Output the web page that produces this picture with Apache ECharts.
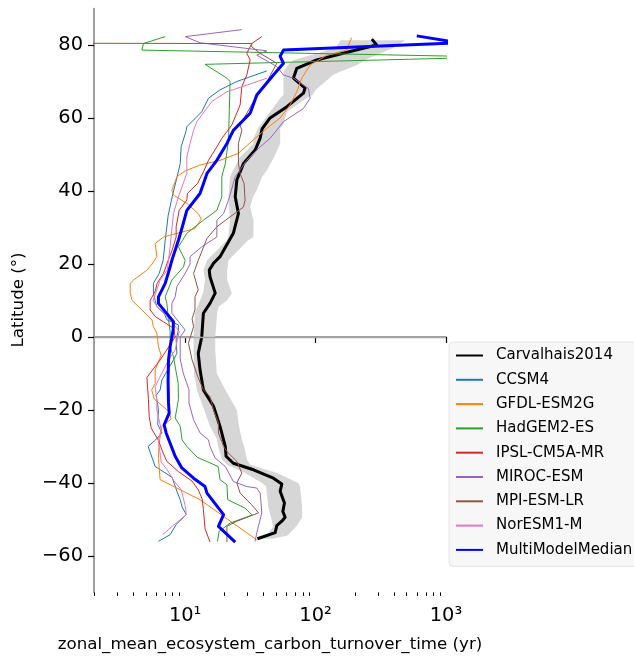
<!DOCTYPE html>
<html>
<head>
<meta charset="utf-8">
<script src="https://cdn.jsdelivr.net/npm/echarts@6/dist/echarts.min.js"></script>
<style>
html,body{margin:0;padding:0;background:#fff;}
#chart{width:634px;height:656px;}
</style>
</head>
<body>
<div id="chart"></div>
<script>
// ---------- tick labels ----------
const latTicks = [-60, -40, -20, 0, 20, 40, 60, 80];
const xMajorTicks = [10, 100, 1000];
const xMinorTicks = [2,3,4,5,6,7,8,9,20,30,40,50,60,70,80,90,200,300,400,500,600,700,800,900];

// ---------- series names / colours ----------
const seriesNames = ['Carvalhais2014','CCSM4','GFDL-ESM2G','HadGEM2-ES','IPSL-CM5A-MR','MIROC-ESM','MPI-ESM-LR','NorESM1-M','MultiModelMedian'];
const seriesColors = ['#000000','#1f77b4','#ff7f0e','#2ca02c','#d62728','#9467bd','#8c564b','#e377c2','#0000ff'];
const seriesWidths = [3, 1, 1, 1, 1, 1, 1, 1, 3];

// ---------- data (turnover time in yr vs latitude) ----------
const carvLat = [-55.3,-53.6,-51.7,-50.5,-49.4,-47.8,-45.5,-42.3,-40.3,-38.7,-36.4,-34.6,-32.7,-30,-24.5,-19,-14.5,-9,-4.5,0,6.5,9.2,12,16.5,18.3,20.2,22,28.4,33.8,38.4,43,47.5,51.2,54.5,57,60,63.1,66.8,68.2,70.9,73.6,75.9,78.2,80,81.6];
const carvVal = [35.8,49.0,50.4,55.1,58.4,56.1,57.7,53.5,55.1,47.5,33.4,23.4,20.6,20.3,18.5,16.5,13.8,13.0,12.6,13.4,13.8,15.5,17.0,15.5,15.3,16.5,18.5,23.4,25.6,24.2,24.9,28.0,34.4,37.6,38.9,44.8,60.3,80.7,83.1,67.6,71.8,102,184,294,270];

const bandLat = [-55.3,-54.5,-52,-49.5,-46.5,-41,-40,-37.3,-35,-33.7,-30,-28,-24.5,-20,-14.5,-10,-3.6,0,6.5,8.3,10,12,15.6,18.3,21,26.5,27.4,32,35.6,38.4,40.2,43.9,45.7,49.3,53,54.4,57.2,58.1,61.7,65.4,66.3,67.7,69,71.8,72.7,74.5,75.9,77.7,79.2,80.9,81.3];
const bandLo = [36.2,41.8,47.2,45.6,43.3,41.8,38.9,28.8,21.0,19.2,17.9,17.5,15.5,14.0,12.3,11.7,11.6,11.6,11.9,12.4,13.0,13.7,14.2,13.8,14.7,20.9,21.4,22.1,21.7,21.5,21.7,22.1,23.3,26.4,33.4,33.4,36.2,37.6,44.8,53.5,56.7,56.7,56.7,56.7,56.7,61.5,67.6,102,141,154,154];
const bandHi = [46.4,60.5,70.9,78.8,78.8,76.0,73.4,50.7,31.5,29.9,28.3,27.2,25.9,24.9,20.3,17.5,17.0,17.0,17.6,18.0,20.9,22.8,21.0,21.0,21.5,30.4,33.4,33.4,31.5,33.2,35.4,38.9,42.3,48.1,53.5,53.5,53.5,56.4,60.3,85,95,100,110,136,154,207,239,312,393,468,485];

const ccsmLat = [-56,-54.2,-51.4,-48.7,-46.6,-44.6,-42.5,-38.5,-35.5,-30,-28.2,-26.3,-24,-20,-16,-14.5,-11.8,-6.3,-4.5,-0.8,1.9,3.3,4.7,6.5,8.3,10,12,14.7,17.4,21,26.5,33.3,38.4,43.9,47.5,52.1,56.6,57.6,61.7,65.4,67.7,70,72.9];
const ccsmVal = [6.24,7.67,8.53,10.2,9.48,9.16,8.68,7.95,5.89,5.20,5.94,6.63,6.16,6.24,5.99,6.43,6.63,8.13,8.64,8.53,8.88,8.88,7.24,6.90,6.07,5.89,5.71,5.71,6.32,6.78,7.03,7.41,7.95,8.68,9.16,9.32,10.2,10.3,13.4,15.1,18.5,24.9,42.3];

const gfdlLat = [-55.6,-44.6,-39.1,-33,-29,-24.5,-22.5,-20.5,-17,-14.5,-12.7,-9,-5,-2.7,1,2.8,4.7,7.4,10,12,14.7,15.6,18.3,20,22,25.6,27.4,29.7,32.3,33.8,36.6,38.9,40.2,43.9,45.5,47.1,48.4,50.3,51.2,54.4,57.2,60,63.6,67.2,70.9,74.5,77.2,78.6,82];
const gfdlVal = [35.4,13.0,6.43,6.24,6.32,6.63,7.81,7.54,5.79,5.54,5.89,5.89,6.55,6.24,6.07,5.71,5.56,4.66,3.92,3.79,3.79,4.02,5.09,5.58,6.07,5.89,6.82,11.9,13.3,12.6,10.3,8.13,7.91,8.64,10,13,18.5,25.6,27.2,34.4,42.3,53.5,63.8,71.8,78.4,90.8,122,173,189];

const hadLat = [-56,-53.3,-51,-48.8,-46.9,-44.6,-40.5,-39.1,-35.5,-33,-30,-28.2,-24.5,-22.2,-17.2,-12.7,-5.4,-2.7,1.5,4.7,9.2,11,15.6,19.2,21,24.7,28.4,32,34.7,38.4,43.9,47.5,53.9,62,70,70.9,74.7,76.7,78.6,80.4,82.3];
const hadVal = [17.7,18.2,22.1,32.6,28.8,21.2,20.9,18.5,17.9,12.4,10.3,9.48,9.16,8.38,8.88,8.84,8.13,7.67,7.67,7.45,7.24,7.03,7.91,9.71,10.0,8.88,10.3,13.8,17.5,19.1,19.1,20.3,21.5,21.8,22.1,20.9,14.2,2500,4.66,4.79,7.03];

const ipslLat = [-56.2,-52.5,-47.3,-44.4,-41.9,-39.5,-36.9,-34.1,-31.8,-28.2,-25,-21.8,-17.2,-11.1,-6.3,0,2.4,5.6,7.4,10,12.5,14.7,17.4,21,23.8,27.4,30.2,34.7,37.5,39.3,42,45.2,48.4,52.1,54.4,58.1,63.6,68.6,71.8,75.9,77.7,80.4,82.3];
const ipslVal = [15.5,14.2,13.8,13.5,12.6,11.3,8.88,7.24,6.78,6.21,5.49,5.30,5.23,5.09,6.43,8.38,8.13,5.89,5.39,5.39,5.89,6.10,6.82,7.41,7.95,8.53,8.53,9.0,10.3,10.4,12.4,13.8,15.1,17.5,19.1,22.8,26.4,27.2,29.7,31.5,29.7,32.4,38.7];

const mirocLat = [-56,-53.7,-48.2,-42.8,-41.4,-41,-39.6,-35.5,-33.2,-30,-28.2,-26.3,-22.7,-18.1,-14.5,-9.9,-6,0,1.9,6.5,9.2,11,13.8,17.4,20,22,24.7,27.4,32,33.8,37.5,43.9,48.4,52.1,54.4,59,62.6,65.4,68.1,70.9,71.8,74.1,77.2,78.4,80.6,82.3,84.2];
const mirocVal = [34.4,35.4,38.7,37.6,35.4,29.7,23.4,20.3,17.0,15.5,15.1,13.0,11.6,10.7,10.7,9.66,9.16,9.16,10.0,7.91,7.91,8.38,8.64,10.0,10.9,10.9,13.4,17.5,17.5,19.7,21.5,24.2,29.7,37.6,44.8,56.7,80.7,90.8,88.1,67.6,56.7,50.4,35.4,42.3,13.0,10.0,27.2];

const mpiLat = [-56.2,-51.9,-50.5,-48.2,-46,-42.8,-40,-37.3,-34.1,-31.4,-30,-26.3,-23.6,-20,-16.3,-14.5,-10.9,-6.3,-1.7,2.8,5,7.4,11,12.9,17.4,21,27,30.2,32.9,35.6,37.5,42,44.8,47.5,53,56.6,58.1,64.5,69,74.1,75,77.7,79.5,80.4,80.5];
const mpiVal = [20.9,20.9,24.9,36.5,32.4,26.4,24.9,27.2,24.9,20.9,19.7,18.0,18.0,16.5,15.5,13.8,12.5,11.3,10.6,11.6,11.3,11.9,11.9,12.6,11.6,12.6,14.7,17.5,22.1,28.0,28.8,28.3,26.4,25.6,25.6,27.2,26.4,33.4,41.0,48.9,50.4,37.6,32.4,32.4,0.5];

const norLat = [-54.2,-51.9,-48.7,-46.2,-41.9,-39.5,-36.4,-34.3,-28.2,-25.4,-20,-17.5,-13.6,-6.3,-3.6,1.5,4.7,6.5,7.8,10,15.6,18.3,21,24.7,33.8,38.4,44.8,49.3,53,56.6,59,64.5,67.2,69,70.9];
const norVal = [6.72,7.95,10.2,10.0,9.32,8.24,7.28,6.55,6.24,6.55,6.07,6.07,5.89,7.45,8.38,9.0,7.67,6.82,6.21,5.69,6.43,7.28,7.45,7.67,8.13,8.88,10.3,10.3,10.9,11.6,12.3,16.0,20.9,29.7,42.3];

const medLat = [-56.2,-51.9,-48.7,-42.8,-41,-38.7,-35.9,-32.7,-26.3,-24.1,-20.9,-18,-12,-6.3,-2.7,1.9,4.2,9.2,11,14.7,18.3,21,26.5,30,34.7,39.3,44.8,48.4,53,56.6,61.3,66.3,71.8,75,76.9,78.6,80.6,82.5];
const medVal = [24.2,18.0,19.7,14.7,14.2,11.6,9.43,8.38,7.15,6.90,7.54,7.45,7.4,7.45,7.67,8.09,8.13,6.24,6.24,7.03,7.54,7.91,8.88,9.48,10.3,13.0,14.7,17.5,20.9,23.4,31.5,35.4,47.5,56.7,53.5,56.7,1260,597];

const allLat = [carvLat, ccsmLat, gfdlLat, hadLat, ipslLat, mirocLat, mpiLat, norLat, medLat];
const allVal = [carvVal, ccsmVal, gfdlVal, hadVal, ipslVal, mirocVal, mpiVal, norVal, medVal];

// ---------- chart ----------
const FONT = 'DejaVu Sans';
const SUP = {1: '\u00b9', 2: '\u00b2', 3: '\u00b3'};
const chart = echarts.init(document.getElementById('chart'), null, {renderer: 'canvas'});

const lineSeries = seriesNames.map((name, k) => {
  const s = {
    name: name,
    type: 'line',
    xAxisIndex: 0, yAxisIndex: 0,
    data: allVal[k].map((v, i) => [v, allLat[k][i]]),
    symbol: 'none',
    showSymbol: false,
    clip: true,
    silent: true,
    lineStyle: {color: seriesColors[k], width: seriesWidths[k], join: 'round'},
    itemStyle: {color: seriesColors[k]},
    z: 3 + k
  };
  if (k === 0) {
    s.markLine = {
      silent: true, symbol: 'none', label: {show: false},
      lineStyle: {color: '#a8a8a8', width: 1.3, type: 'solid'},
      data: [{yAxis: 0}]
    };
  }
  return s;
});

const bandSeries = {
  name: 'band',
  type: 'custom',
  xAxisIndex: 0, yAxisIndex: 0,
  silent: true,
  z: 1,
  data: [[bandLo[0], bandLat[0]]],
  renderItem: function (params, api) {
    const pts = [];
    for (let i = 0; i < bandLat.length; i++) pts.push(api.coord([bandLo[i], bandLat[i]]));
    for (let i = bandLat.length - 1; i >= 0; i--) pts.push(api.coord([bandHi[i], bandLat[i]]));
    return {type: 'polygon', shape: {points: pts}, style: {fill: '#d6d6d6', stroke: null}};
  }
};

const option = {
  animation: false,
  backgroundColor: '#ffffff',
  grid: {left: 94, right: 188, top: 8.5, bottom: 63.6, containLabel: false},
  xAxis: [
    {
      type: 'log', logBase: 10, min: 2, max: 1000, position: 'bottom',
      axisLine: {show: true, lineStyle: {color: '#808080', width: 1.5}},
      axisTick: {show: true, customValues: xMajorTicks, length: 6, lineStyle: {color: '#000', width: 1.2}},
      axisLabel: {
        customValues: xMajorTicks,
        formatter: function (v) {
          const e = Math.round(Math.log10(v));
          if (Math.abs(Math.pow(10, e) - v) > 1e-6) return '';
          return '10' + SUP[e];
        },
        fontFamily: FONT, fontSize: 19.4, color: '#000', margin: 14
      },
      splitLine: {show: false}
    },
    {
      type: 'log', logBase: 10, min: 2, max: 1000, position: 'bottom',
      axisLine: {show: false},
      axisTick: {show: true, customValues: xMinorTicks, length: 3.5, lineStyle: {color: '#000', width: 1}},
      axisLabel: {show: false},
      splitLine: {show: false}
    }
  ],
  yAxis: {
    type: 'value', min: -70, max: 90,
    axisLine: {show: true, lineStyle: {color: '#808080', width: 1.5}},
    axisTick: {show: true, customValues: latTicks, length: 6, lineStyle: {color: '#000', width: 1.2}},
    axisLabel: {
      customValues: latTicks,
      formatter: function (v) { return v < 0 ? '\u2212' + (-v) : String(v); },
      fontFamily: FONT, fontSize: 19.4, color: '#000', margin: 11
    },
    splitLine: {show: false}
  },
  legend: {
    data: seriesNames,
    orient: 'vertical',
    left: 449, top: 342,
    itemWidth: 27, itemHeight: 14, itemGap: 9.3,
    padding: [6, 8, 9, 6],
    backgroundColor: '#f7f7f7',
    borderColor: '#e4e4e4', borderWidth: 1, borderRadius: 4,
    itemStyle: {opacity: 0, borderWidth: 0},
    textStyle: {fontFamily: FONT, fontSize: 15, color: '#000', padding: [0, 0, 0, 8]},
    selectedMode: false
  },
  graphic: [
    {
      type: 'text', x: 19, y: 300, rotation: Math.PI / 2,
      style: {text: 'Latitude (\u00b0)', font: '16.67px "DejaVu Sans"', fill: '#000', align: 'center', verticalAlign: 'middle'}
    },
    {
      type: 'text', x: 270, y: 645,
      style: {text: 'zonal_mean_ecosystem_carbon_turnover_time (yr)', font: '16.67px "DejaVu Sans"', fill: '#000', align: 'center', verticalAlign: 'middle'}
    }
  ],
  series: [bandSeries].concat(lineSeries)
};
chart.setOption(option);
</script>
</body>
</html>
